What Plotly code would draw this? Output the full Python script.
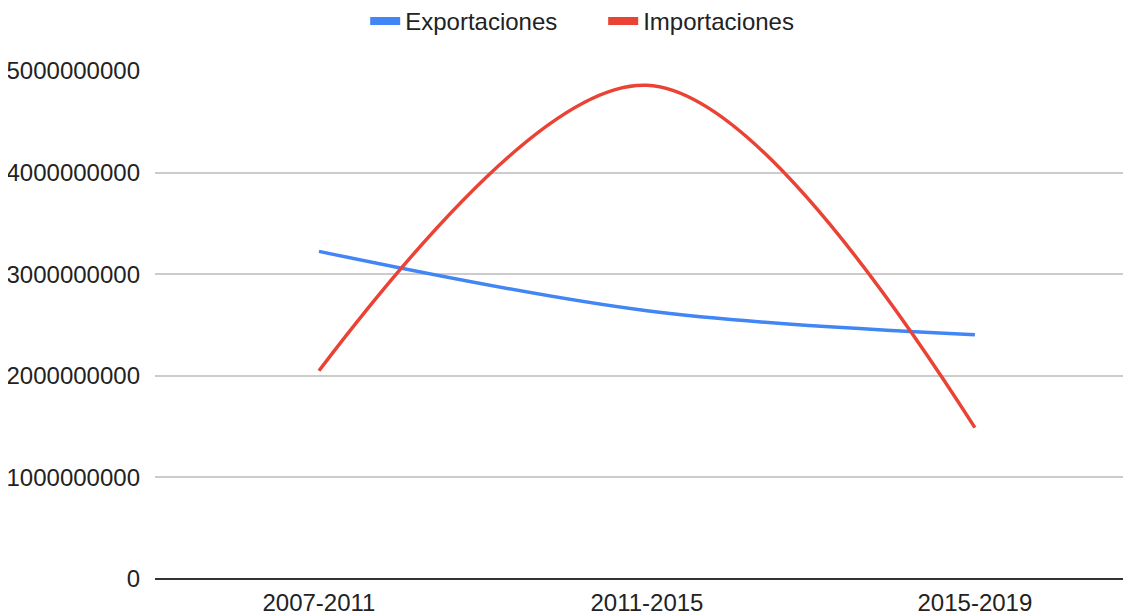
import plotly.graph_objects as go

periods = ["2007-2011", "2011-2015", "2015-2019"]
exportaciones = [3225000000, 2640000000, 2405000000]
importaciones = [2050000000, 4860000000, 1490000000]

series = [
    ("Exportaciones", exportaciones, "#4285f4"),
    ("Importaciones", importaciones, "#ea4335"),
]

fig = go.Figure()
for name, values, color in series:
    fig.add_trace(go.Scatter(
        x=periods, y=values, name=name, mode="lines", showlegend=False,
        line=dict(color=color, width=3.5, shape="spline", smoothing=1),
    ))
# legend swatches: thick short bars like the original
for name, values, color in series:
    fig.add_trace(go.Scatter(
        x=[None], y=[None], name=name, mode="lines",
        line=dict(color=color, width=8),
    ))

# the page body has an 8px margin, so the figure sits 8px in from the window edge
fig.update_layout(
    width=1123, height=608,
    paper_bgcolor="#ffffff", plot_bgcolor="#ffffff",
    font=dict(family="Liberation Sans, Arial, sans-serif", size=24, color="#222222"),
    margin=dict(l=147, r=0, t=63, b=37),
    showlegend=True,
    legend=dict(orientation="h", x=0.53, xanchor="center", xref="container",
                y=0.978, yanchor="middle", yref="container",
                font=dict(size=24, color="#222222"),
                bgcolor="rgba(0,0,0,0)", itemwidth=30,
                entrywidth=193, entrywidthmode="pixels"),
    xaxis=dict(type="category", range=[-0.5, 2.476], showgrid=False,
               showline=False, zeroline=False, ticks="", ticklabelstandoff=7,
               automargin=False),
    yaxis=dict(range=[0, 5000000000], dtick=1000000000, tickformat="d",
               showgrid=True, gridcolor="#cccccc", gridwidth=1.5,
               zeroline=True, zerolinecolor="#333333", zerolinewidth=2,
               showline=False, ticks="", ticklabelstandoff=14,
               automargin=False),
)

fig.write_html("out.html")
